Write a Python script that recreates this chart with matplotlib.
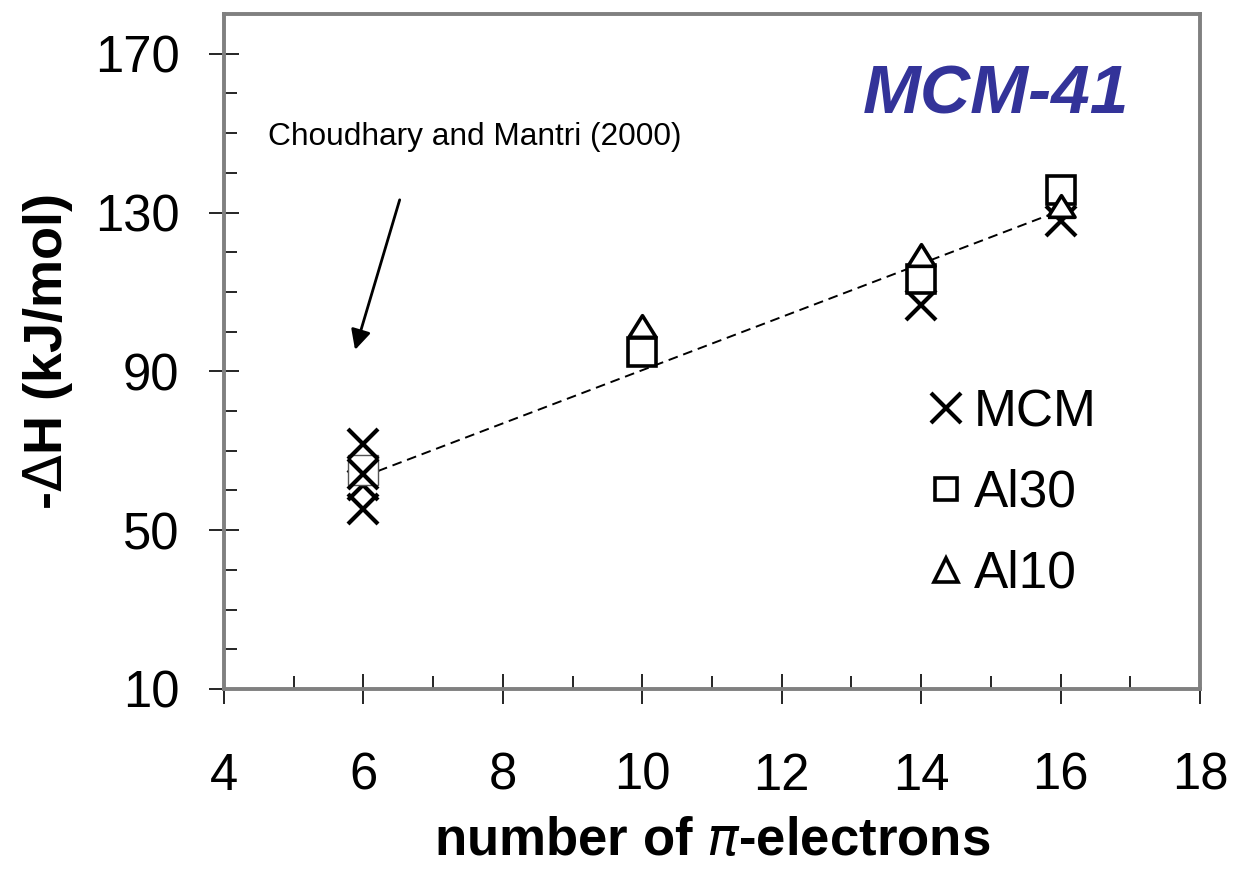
import matplotlib
matplotlib.use("Agg")
import matplotlib.pyplot as plt
from matplotlib.lines import Line2D
from matplotlib.ticker import MultipleLocator

plt.rcParams['font.family'] = ['Liberation Sans', 'DejaVu Sans']

# Data
x_mcm_back = [6]
y_mcm_back = [61.4]
x_mcm = [6, 6, 6, 14, 16]
y_mcm = [71.7, 64.2, 55.3, 106.6, 127.8]
x_al30_6 = [6]
y_al30_6 = [65.2]
x_al30 = [10, 14, 16]
y_al30 = [94.9, 113.2, 135.7]
x_al10 = [10, 14, 16]
y_al10 = [101.3, 119.3, 131.7]
trend_x = [6, 16]
trend_y = [63.5, 130.5]
legend_labels = ['MCM', 'Al30', 'Al10']

fig = plt.figure(figsize=(12.34, 8.75), dpi=100)
ax = fig.add_axes([224/1234, 1-689/875, (1200-224)/1234, (689-14)/875])

tri = [(-1, -0.8), (1, -0.8), (0, 0.8), (-1, -0.8)]

ax.plot(trend_x, trend_y, ls=(0, (5, 3)), color='black', lw=1.4, zorder=2)
ax.plot(x_mcm_back, y_mcm_back, ls='none', marker='x', ms=21, mew=3, color='black', zorder=2.5)
ax.plot(x_al30_6, y_al30_6, ls='none', marker='s', ms=22, mew=1.0, mfc='white', mec='#555555',
        zorder=2.7)
ax.plot(x_mcm, y_mcm, ls='none', marker='x', ms=21, mew=3, color='black', zorder=3)
ax.plot(x_al30, y_al30, ls='none', marker='s', ms=19.5, mew=2.6, mfc='white', mec='black', zorder=3.5)
ax.plot(x_al10, y_al10, ls='none', marker=tri, ms=19.5, mew=2.6, mfc='white', mec='black', zorder=4)

ax.set_xlim(4, 18)
ax.set_ylim(10, 180)
ax.set_xticks([4, 6, 8, 10, 12, 14, 16, 18])
ax.set_yticks([10, 50, 90, 130, 170])
ax.xaxis.set_minor_locator(MultipleLocator(1))
ax.yaxis.set_minor_locator(MultipleLocator(10))

ax.tick_params(which='major', direction='inout', length=22, width=1.2, color='black',
               labelsize=36.5, top=False, right=False)
ax.tick_params(axis='y', which='major', pad=21)
ax.tick_params(axis='x', which='major', pad=34)
ax.tick_params(which='minor', direction='in', length=9.5, width=1.2, color='black',
               top=False, right=False)

for s in ax.spines.values():
    s.set_color('#808080')
    s.set_linewidth(2.8)

ax.set_xlabel('number of $\\pi$-electrons', fontsize=38, fontweight='bold', labelpad=11)
ax.set_ylabel('-$\\Delta$H (kJ/mol)', fontsize=39, fontweight='bold', labelpad=14)

ax.text(15.08, 159.5, 'MCM-41', fontsize=50, fontweight='bold', fontstyle='italic',
        color='#333399', ha='center', va='center')

ax.text(4.63, 149, 'Choudhary and Mantri (2000)', fontsize=22.8, ha='left', va='center')
ax.annotate('', xy=(5.88, 95.4), xytext=(6.52, 133.2),
            arrowprops=dict(arrowstyle='-|>', color='black', lw=2,
                            mutation_scale=30, shrinkA=0, shrinkB=0))

handles = [
    Line2D([], [], ls='none', marker='x', ms=21, mew=3, color='black'),
    Line2D([], [], ls='none', marker='s', ms=16, mew=2.6, mfc='white', mec='black'),
    Line2D([], [], ls='none', marker='^', ms=17, mew=2.6, mfc='white', mec='black'),
]
ax.legend(handles, legend_labels, loc='upper left', bbox_to_anchor=(920/1234, 1-388/875),
          bbox_transform=fig.transFigure, frameon=False, fontsize=37,
          handlelength=1.0, handletextpad=0.05, labelspacing=0.62, borderpad=0,
          borderaxespad=0)

fig.savefig('out.png', dpi=100)
